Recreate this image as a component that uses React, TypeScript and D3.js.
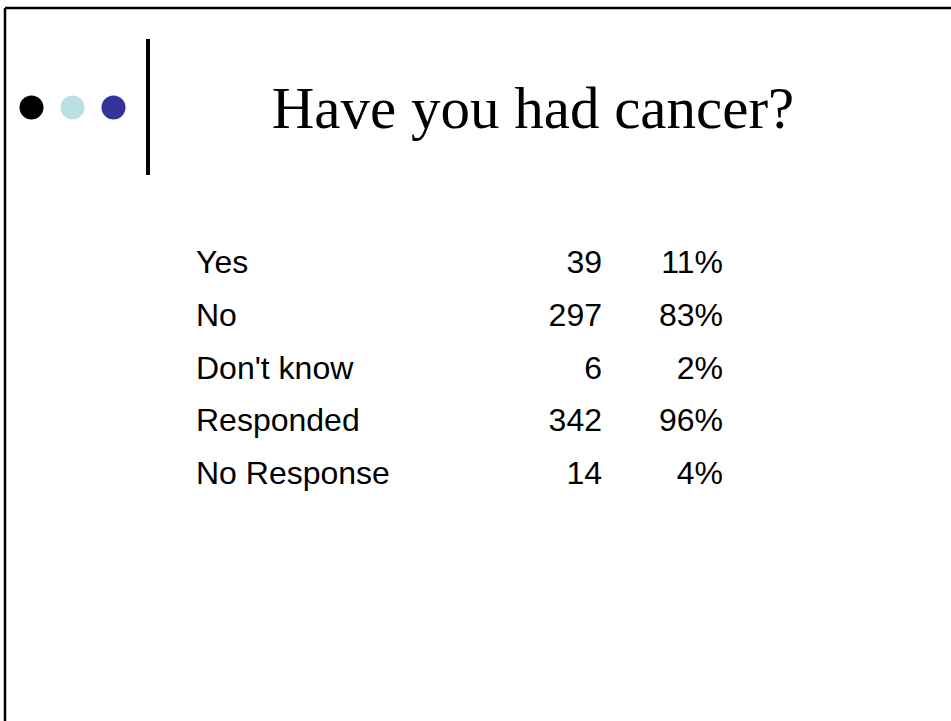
import React from "react";
import * as d3 from "d3";

const categories = ["Yes", "No", "Don't know", "Responded", "No Response"];
const counts = [39, 297, 6, 342, 14];
const percents = ["11%", "83%", "2%", "96%", "4%"];
const dotColors = ["#000000", "#BBE0E3", "#333399"];
const title = "Have you had cancer?";

export default function App() {
  const W = 951, H = 721;
  const y = d3.scalePoint<string>().domain(categories).range([273, 484]);
  const dotX = d3.scalePoint<number>().domain([0, 1, 2]).range([31.5, 113.5]);
  return (
    <svg width={W} height={H} style={{ position: "absolute", left: 0, top: 0, background: "#fff" }}>
      <rect x={0} y={0} width={W} height={H} fill="#fff" />
      <line x1={5} y1={8} x2={W} y2={8} stroke="#000" strokeWidth={2.5} />
      <line x1={5} y1={8} x2={5} y2={H} stroke="#000" strokeWidth={2.5} />
      {dotColors.map((c, i) => (
        <circle key={i} cx={dotX(i)} cy={107.5} r={12} fill={c} />
      ))}
      <rect x={146} y={39} width={4} height={136} fill="#000" />
      <text x={533} y={128} textAnchor="middle" fontFamily="'Liberation Serif', 'Times New Roman', serif" fontSize={59} fill="#000">
        {title}
      </text>
      <g fontFamily="'Liberation Sans', Arial, sans-serif" fontSize={32} fill="#000">
        {categories.map((c, i) => (
          <g key={c}>
            <text x={196} y={y(c)}>{c}</text>
            <text x={602} y={y(c)} textAnchor="end">{counts[i]}</text>
            <text x={723} y={y(c)} textAnchor="end">{percents[i]}</text>
          </g>
        ))}
      </g>
    </svg>
  );
}
